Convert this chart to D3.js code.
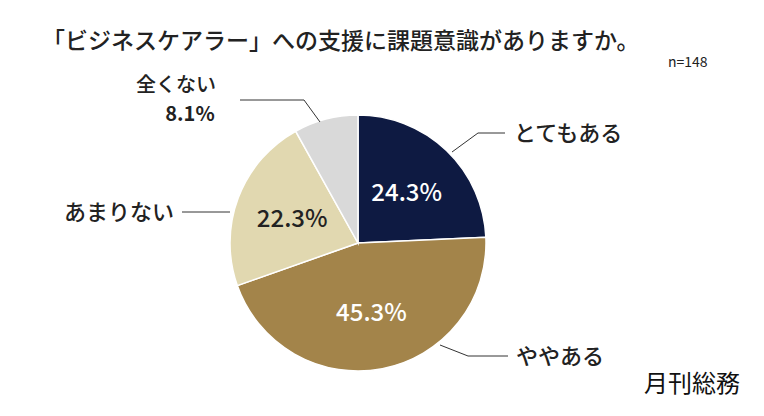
<!DOCTYPE html>
<html><head><meta charset="utf-8">
<script src="https://cdn.jsdelivr.net/npm/d3@7"></script>
<style>body{margin:0;background:#fff}text{font-family:"Noto Sans CJK JP","Noto Sans",sans-serif}</style>
</head><body>
<script>
var categories = ["とてもある","ややある","あまりない","全くない"];
var values = [24.3, 45.3, 22.3, 8.1];
var colors = ["#0e1a42","#a3844a","#e1d8b0","#d9d9d9"];

var svg = d3.select("body").append("svg").attr("width",764).attr("height",416);
var cx = 358, cy = 243, r = 128;

svg.append("text").attr("x",42).attr("y",49).attr("font-size",23).attr("font-weight",500)
	.attr("fill","#222").text("「ビジネスケアラー」への支援に課題意識がありますか。");
svg.append("text").attr("x",668).attr("y",67).attr("font-size",14).attr("fill","#222").text("n=148");

var pie = d3.pie().sort(null).value(function(d){return d;});
var arcs = pie(values);
var arc = d3.arc().innerRadius(0).outerRadius(r);
var g = svg.append("g").attr("transform","translate("+cx+","+cy+")");
g.selectAll("path").data(arcs).enter().append("path")
	.attr("d",arc).attr("fill",function(d,i){return colors[i];})
	.attr("stroke","#fff").attr("stroke-width",1.5);

//inner percentage labels (skip the smallest slice)
var inner = d3.arc().innerRadius(r*0.55).outerRadius(r*0.55);
g.selectAll("text.pct").data(arcs.slice(0,3)).enter().append("text")
	.attr("class","pct")
	.attr("transform",function(d){return "translate("+inner.centroid(d)+")";})
	.attr("text-anchor","middle").attr("dy","0.35em")
	.attr("font-size",24).attr("font-weight",500)
	.attr("fill",function(d,i){return i<2?"#fff":"#222";})
	.text(function(d){return d.data.toFixed(1)+"%";});

//leader lines and outside labels
function lead(pts){
	svg.append("polyline").attr("points",pts.map(function(p){return p.join(",");}).join(" "))
		.attr("fill","none").attr("stroke","#333").attr("stroke-width",1);
}
function label(x,y,anchor,t,w,s){
	svg.append("text").attr("x",x).attr("y",y).attr("text-anchor",anchor)
		.attr("font-size",s||22).attr("font-weight",w||500).attr("fill","#222").text(t);
}
lead([[452,152],[478,133],[505,133]]);
label(514,141,"start",categories[0]);
lead([[440,345],[468,356],[508,356]]);
label(516,364,"start",categories[1]);
lead([[182,212],[230,212]]);
label(174,220,"end",categories[2]);
lead([[320,122],[304,100],[240,100]]);
label(176,92,"middle",categories[3],500,20);
label(190,121,"middle",values[3].toFixed(1)+"%",700,20);

svg.append("text").attr("x",740).attr("y",392).attr("text-anchor","end").attr("font-size",24).attr("fill","#111").text("月刊総務");
</script>
</body></html>
